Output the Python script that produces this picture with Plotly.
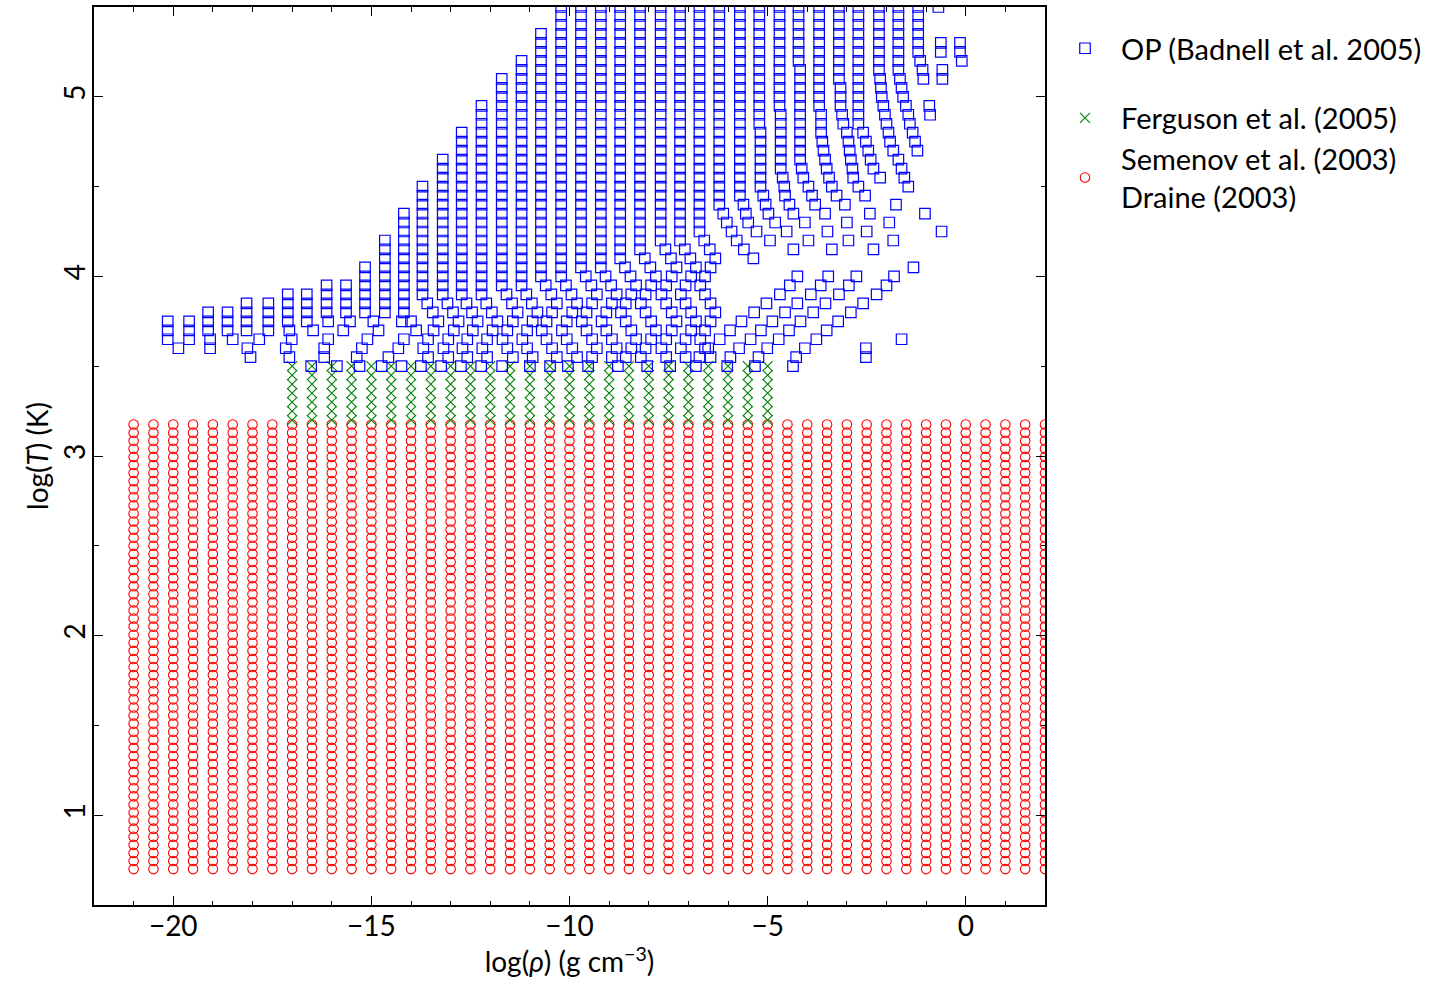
import plotly.graph_objects as go

# ---------------- data ----------------
# Semenov et al. (2003) / Draine (2003): regular grid in log rho, log T
semenov_logrho = [-21.0, -20.5, -20.0, -19.5, -19.0, -18.5, -18.0, -17.5, -17.0, -16.5,
                  -16.0, -15.5, -15.0, -14.5, -14.0, -13.5, -13.0, -12.5, -12.0, -11.5,
                  -11.0, -10.5, -10.0, -9.5, -9.0, -8.5, -8.0, -7.5, -7.0, -6.5,
                  -6.0, -5.5, -5.0, -4.5, -4.0, -3.5, -3.0, -2.5, -2.0, -1.5,
                  -1.0, -0.5, 0.0, 0.5, 1.0, 1.5, 2.0]
semenov_logT = [0.700, 0.745, 0.790, 0.835, 0.880, 0.925, 0.970, 1.015, 1.060, 1.105,
                1.150, 1.195, 1.240, 1.285, 1.330, 1.375, 1.420, 1.465, 1.510, 1.555,
                1.600, 1.645, 1.690, 1.735, 1.780, 1.825, 1.870, 1.915, 1.960, 2.005,
                2.050, 2.095, 2.140, 2.185, 2.230, 2.275, 2.320, 2.365, 2.410, 2.455,
                2.500, 2.545, 2.590, 2.635, 2.680, 2.725, 2.770, 2.815, 2.860, 2.905,
                2.950, 2.995, 3.040, 3.085, 3.130, 3.175]

# Ferguson et al. (2005): regular grid
ferguson_logrho = [-17.0, -16.5, -16.0, -15.5, -15.0, -14.5, -14.0, -13.5, -13.0, -12.5,
                   -12.0, -11.5, -11.0, -10.5, -10.0, -9.5, -9.0, -8.5, -8.0, -7.5,
                   -7.0, -6.5, -6.0, -5.5, -5.0]
ferguson_logT = [3.20, 3.25, 3.30, 3.35, 3.40, 3.45, 3.50]

# OP (Badnell et al. 2005): straight vertical runs of squares (log T step 0.05)
op_run_logrho = [-20.14, -19.60, -19.12, -18.63, -18.15, -17.60, -17.11, -16.63, -16.13, -15.64,
                 -15.16, -14.66, -14.18, -13.71, -13.20, -12.72, -12.22, -11.71, -11.21, -10.72,
                 -10.21, -9.71, -9.21, -8.72, -8.22, -7.70, -7.21, -6.72, -6.22, -5.70,
                 -5.21, -4.70, -4.22, -3.70, -3.20, -2.71, -2.19, -1.70, -1.20, -0.69,
                 -5.18, -4.67, -4.18]
op_run_logT_top = [3.75, 3.75, 3.80, 3.80, 3.85, 3.85, 3.90, 3.90, 3.95, 3.95,
                   4.05, 4.20, 4.35, 4.50, 4.65, 4.80, 4.95, 5.10, 5.20, 5.35,
                   5.50, 5.50, 5.50, 5.50, 5.50, 5.50, 5.50, 5.50, 5.50, 5.50,
                   5.50, 5.50, 5.50, 5.50, 5.50, 5.50, 5.50, 5.50, 5.50, 5.50,
                   4.80, 4.90, 5.15]
op_run_logT_bottom = [3.65, 3.65, 3.70, 3.70, 3.70, 3.70, 3.75, 3.75, 3.80, 3.80,
                      3.80, 3.80, 3.80, 3.90, 3.90, 3.90, 3.90, 3.95, 3.95, 4.00,
                      4.00, 4.05, 4.05, 4.10, 4.15, 4.20, 4.20, 4.25, 4.40, 4.45,
                      4.85, 4.95, 5.20, 4.95, 5.10, 4.85, 5.15, 5.15, 5.25, 5.50,
                      4.50, 4.60, 4.65]

# OP: shifted squares at the low-density / low-T end
op_left_logrho = [-19.87, -19.07, -19.07, -18.50, -18.13, -18.05, -17.83, -17.07, -17.01, -17.16,
                  -17.07, -16.47, -16.09, -16.09, -16.19, -16.19, -15.54, -15.71, -14.95, -14.82,
                  -15.10, -15.24, -15.37, -14.23, -14.00, -13.87, -14.18, -14.32, -14.57]
op_left_logT = [3.60, 3.65, 3.60, 3.65, 3.60, 3.55, 3.65, 3.70, 3.65, 3.60,
                3.55, 3.70, 3.75, 3.65, 3.60, 3.55, 3.75, 3.70, 3.75, 3.70,
                3.65, 3.60, 3.55, 3.75, 3.75, 3.70, 3.65, 3.60, 3.55]

# OP: lowest row (log T = 3.5)
op_bottom_logrho = [-16.52, -15.87, -15.30, -14.74, -14.24, -13.75, -13.24, -12.74, -12.23, -11.70,
                    -11.00, -10.49, -10.04, -9.53, -8.78, -8.04, -7.46, -6.81, -6.02, -5.32, -4.36]
op_bottom_logT = [3.50] * len(op_bottom_logrho)

# OP: zig-zagging column ends in the middle (estimated)
op_mid_logrho = [
    -13.59, -13.45, -13.31, -13.43, -13.57, -13.69, -13.57,
    -13.08, -12.94, -12.80, -12.92, -13.06, -13.18, -13.06,
    -12.60, -12.46, -12.32, -12.44, -12.58, -12.70, -12.58,
    -12.10, -11.96, -11.82, -11.94, -12.08, -12.20, -12.08,
    -11.59, -11.45, -11.31, -11.43, -11.57, -11.69, -11.57, -11.43,
    -11.09, -10.95, -10.81, -10.93, -11.07, -11.19, -11.07, -10.93,
    -10.60, -10.46, -10.32, -10.44, -10.58, -10.70, -10.58, -10.44, -10.32,
    -10.09, -9.95, -9.81, -9.93, -10.07, -10.19, -10.07, -9.93, -9.81,
    -9.59, -9.45, -9.31, -9.43, -9.57, -9.69, -9.57, -9.43, -9.31, -9.43,
    -9.09, -8.95, -8.81, -8.93, -9.07, -9.19, -9.07, -8.93, -8.81, -8.93,
    -8.60, -8.46, -8.32, -8.44, -8.58, -8.70, -8.58, -8.44, -8.32, -8.44, -8.58,
    -8.10, -7.96, -7.82, -7.94, -8.08, -8.20, -8.08, -7.94, -7.82, -7.94, -8.08, -8.20,
    -7.58, -7.44, -7.30, -7.42, -7.56, -7.68, -7.56, -7.42, -7.30, -7.42, -7.56, -7.68, -7.56,
    -7.09, -6.95, -6.81, -6.93, -7.07, -7.19, -7.07, -6.93, -6.81, -6.93, -7.07, -7.19, -7.07,
    -6.60, -6.46, -6.32, -6.44, -6.58, -6.70, -6.58, -6.44, -6.32, -6.44, -6.58, -6.70, -6.58, -6.44,
]
op_mid_logT = [
    3.85, 3.80, 3.75, 3.70, 3.65, 3.60, 3.55,
    3.85, 3.80, 3.75, 3.70, 3.65, 3.60, 3.55,
    3.85, 3.80, 3.75, 3.70, 3.65, 3.60, 3.55,
    3.85, 3.80, 3.75, 3.70, 3.65, 3.60, 3.55,
    3.90, 3.85, 3.80, 3.75, 3.70, 3.65, 3.60, 3.55,
    3.90, 3.85, 3.80, 3.75, 3.70, 3.65, 3.60, 3.55,
    3.95, 3.90, 3.85, 3.80, 3.75, 3.70, 3.65, 3.60, 3.55,
    3.95, 3.90, 3.85, 3.80, 3.75, 3.70, 3.65, 3.60, 3.55,
    4.00, 3.95, 3.90, 3.85, 3.80, 3.75, 3.70, 3.65, 3.60, 3.55,
    4.00, 3.95, 3.90, 3.85, 3.80, 3.75, 3.70, 3.65, 3.60, 3.55,
    4.05, 4.00, 3.95, 3.90, 3.85, 3.80, 3.75, 3.70, 3.65, 3.60, 3.55,
    4.10, 4.05, 4.00, 3.95, 3.90, 3.85, 3.80, 3.75, 3.70, 3.65, 3.60, 3.55,
    4.15, 4.10, 4.05, 4.00, 3.95, 3.90, 3.85, 3.80, 3.75, 3.70, 3.65, 3.60, 3.55,
    4.15, 4.10, 4.05, 4.00, 3.95, 3.90, 3.85, 3.80, 3.75, 3.70, 3.65, 3.60, 3.55,
    4.20, 4.15, 4.10, 4.05, 4.00, 3.95, 3.90, 3.85, 3.80, 3.75, 3.70, 3.65, 3.60, 3.55,
]

# OP: curving high-density columns (right side)
op_curve_logrho = [
    -6.12, -6.03, -5.91, -5.78, -5.60, -5.36,
    -5.61, -5.55, -5.49, -5.28, -4.94,
    -5.11, -5.05, -4.98, -4.81, -4.52,
    -4.62, -4.58, -4.56, -4.45, -4.35, -4.06,
    -4.14, -4.10, -3.97, -3.88, -3.80, -3.55,
    -3.65, -3.65, -3.65, -3.62, -3.59, -3.55, -3.51, -3.45, -3.38, -3.26, -3.05,
    -3.16, -3.16, -3.16, -3.12, -3.09, -3.00, -2.96, -2.93, -2.90, -2.86, -2.84, -2.71, -2.54,
    -2.59, -2.52, -2.46, -2.40, -2.33, -2.16,
    -2.16, -2.14, -2.12, -2.08, -2.04, -2.00, -1.95, -1.91, -1.83, -1.70, -1.62, -1.55,
    -1.66, -1.62, -1.58, -1.51, -1.45, -1.41, -1.34, -1.28, -1.22,
    -1.15, -1.09, -1.07, -0.92, -0.90,
    -0.63, -0.63, -0.59, -0.59,
    -0.145, -0.145, -0.10,
]
op_curve_logT = [
    4.35, 4.30, 4.25, 4.20, 4.15, 4.10,
    4.40, 4.35, 4.30, 4.25, 4.20,
    4.45, 4.40, 4.35, 4.30, 4.25,
    4.55, 4.50, 4.45, 4.40, 4.35, 4.30,
    4.60, 4.55, 4.50, 4.45, 4.40, 4.35,
    4.90, 4.85, 4.80, 4.75, 4.70, 4.65, 4.60, 4.55, 4.50, 4.45, 4.40,
    5.05, 5.00, 4.95, 4.90, 4.85, 4.80, 4.75, 4.70, 4.65, 4.60, 4.55, 4.50, 4.45,
    4.80, 4.75, 4.70, 4.65, 4.60, 4.55,
    5.10, 5.05, 5.00, 4.95, 4.90, 4.85, 4.80, 4.75, 4.70, 4.65, 4.60, 4.55,
    5.10, 5.05, 5.00, 4.95, 4.90, 4.85, 4.80, 4.75, 4.70,
    5.20, 5.15, 5.10, 4.95, 4.90,
    5.30, 5.25, 5.15, 5.10,
    5.30, 5.25, 5.20,
]

# OP: diagonal rows rising to the right near the high-density edge
op_diag_logrho = [
    -4.28, -4.06, -3.77, -3.51, -3.22, -2.90, -2.59, -2.25, -2.00, -1.81, -1.32,
    -5.23, -5.01, -4.72, -4.46, -4.17, -3.85, -3.54, -3.20, -2.95, -2.76,
    -5.94, -5.72, -5.43, -5.17, -4.88, -4.56, -4.25, -3.91, -3.66, -3.47,
    -6.72, -6.50, -6.21, -5.95, -5.66, -5.34, -5.03, -4.69, -4.44, -4.25,
]
op_diag_logT = [
    3.55, 3.60, 3.65, 3.70, 3.75, 3.80, 3.85, 3.90, 3.95, 4.00, 4.05,
    3.55, 3.60, 3.65, 3.70, 3.75, 3.80, 3.85, 3.90, 3.95, 4.00,
    3.55, 3.60, 3.65, 3.70, 3.75, 3.80, 3.85, 3.90, 3.95, 4.00,
    3.55, 3.60, 3.65, 3.70, 3.75, 3.80, 3.85, 3.90, 3.95, 4.00,
]

# OP: scattered single squares
op_single_logrho = [-1.45, -1.76, -1.03, -0.61, -2.42, -1.93, -3.00, -3.49, -2.50, -1.83,
                    -2.96, -2.33, -3.38, -3.97, -4.35, -1.62, -2.52, -2.52]
op_single_logT = [4.50, 4.40, 4.35, 4.25, 4.35, 4.30, 4.30, 4.25, 4.25, 4.20,
                  4.20, 4.15, 4.15, 4.20, 4.15, 3.65, 3.60, 3.55]

labels = ["OP (Badnell et al. 2005)", "Ferguson et al. (2005)",
          "Semenov et al. (2003)<br>Draine (2003)"]

# ---------------- build point sets ----------------
sx, sy = [], []
for r in semenov_logrho:
    for t in semenov_logT:
        sx.append(r)
        sy.append(t)

fx, fy = [], []
for r in ferguson_logrho:
    for t in ferguson_logT:
        fx.append(r)
        fy.append(t)

ox, oy = [], []
for r, tt, tb in zip(op_run_logrho, op_run_logT_top, op_run_logT_bottom):
    k = int(round((tt - tb) / 0.05))
    for i in range(k + 1):
        ox.append(r)
        oy.append(round(tb + 0.05 * i, 3))
for gx, gy in [(op_left_logrho, op_left_logT), (op_bottom_logrho, op_bottom_logT),
               (op_mid_logrho, op_mid_logT), (op_curve_logrho, op_curve_logT),
               (op_diag_logrho, op_diag_logT), (op_single_logrho, op_single_logT)]:
    ox += gx
    oy += gy

FONT = "Lato, 'DejaVu Sans', sans-serif"

fig = go.Figure()
fig.add_trace(go.Scatter(
    x=sx, y=sy, mode="markers", name=labels[2], legendgroup="b", legendrank=3,
    marker=dict(symbol="circle-open", size=9.5, color="#ff0000", line=dict(width=1.1, color="#ff0000")),
))
fig.add_trace(go.Scatter(
    x=fx, y=fy, mode="markers", name=labels[1], legendgroup="b", legendrank=2,
    marker=dict(symbol="x-thin-open", size=10, color="#008000", line=dict(width=1.1, color="#008000")),
))
fig.add_trace(go.Scatter(
    x=ox, y=oy, mode="markers", name=labels[0], legendgroup="a", legendrank=1,
    marker=dict(symbol="square-open", size=10.5, color="#0000ff", line=dict(width=1.2, color="#0000ff")),
))

axis_common = dict(
    showline=True, linewidth=2, linecolor="black", mirror="ticks",
    ticks="inside", ticklen=9, tickwidth=1.3, tickcolor="black",
    showgrid=False, zeroline=False,
    tickfont=dict(family=FONT, size=28, color="black"),
    automargin=False,
)

fig.update_layout(
    width=1452, height=984,
    margin=dict(l=94, r=407, t=7, b=79),
    paper_bgcolor="white", plot_bgcolor="white",
    font=dict(family=FONT, color="black"),
    xaxis=dict(range=[-22, 2], tick0=0, dtick=5, ticklabelstandoff=-5,
               minor=dict(dtick=1, ticklen=4.5, ticks="inside", tickwidth=1.2, tickcolor="black"),
               title=dict(text="log(<i>ρ</i>) (g cm<sup>−3</sup>)", font=dict(family=FONT, size=28), standoff=12),
               **axis_common),
    yaxis=dict(range=[0.5, 5.5], tick0=0, dtick=1, tickangle=-90, ticklabelstandoff=-4,
               minor=dict(dtick=0.5, ticklen=4.5, ticks="inside", tickwidth=1.2, tickcolor="black"),
               title=dict(text="log(<i>T</i>) (K)", font=dict(family=FONT, size=28), standoff=0),
               **axis_common),
    legend=dict(x=1.0042, xanchor="left", y=0.9823, yanchor="top", traceorder="grouped",
                font=dict(family=FONT, size=29, color="black"), tracegroupgap=29, itemwidth=62,
                bgcolor="rgba(0,0,0,0)", borderwidth=0),
    showlegend=True,
)

fig.write_html("out.html", config={"displayModeBar": False},
               post_script="document.body.style.margin='0px';")
